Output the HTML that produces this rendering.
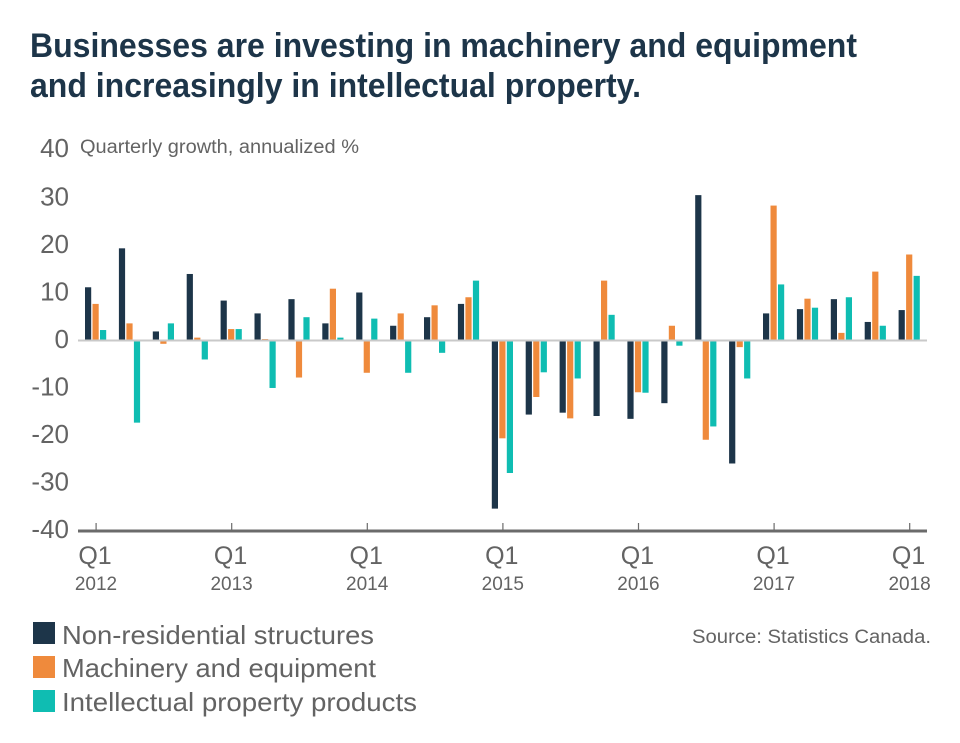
<!DOCTYPE html>
<html>
<head>
<meta charset="utf-8">
<style>
html,body{margin:0;padding:0;background:#fff;}
svg{display:block;font-family:"Liberation Sans",sans-serif;}
</style>
</head>
<body>
<svg id="chart" width="960" height="743" viewBox="0 0 960 743" xmlns="http://www.w3.org/2000/svg">
  <rect width="960" height="743" fill="#ffffff"/>
  <text x="30" y="57" font-size="34" font-weight="700" fill="#1d3549" textLength="827" lengthAdjust="spacingAndGlyphs">Businesses are investing in machinery and equipment</text>
  <text x="30" y="97" font-size="34" font-weight="700" fill="#1d3549" textLength="611" lengthAdjust="spacingAndGlyphs">and increasingly in intellectual property.</text>
  <text x="80" y="153" font-size="19" fill="#636363" textLength="279" lengthAdjust="spacingAndGlyphs">Quarterly growth, annualized %</text>
  <g id="plot"></g>
  <g>
    <g>
      <rect x="33" y="622" width="22" height="22" fill="#1d3549"/>
      <text x="62" y="644" font-size="26" fill="#636363" textLength="312" lengthAdjust="spacingAndGlyphs">Non-residential structures</text>
    </g>
    <g>
      <rect x="33" y="656" width="22" height="22" fill="#ef8a3c"/>
      <text x="62" y="677" font-size="26" fill="#636363" textLength="314" lengthAdjust="spacingAndGlyphs">Machinery and equipment</text>
    </g>
    <g>
      <rect x="33" y="690" width="22" height="22" fill="#0fbdb2"/>
      <text x="62" y="711" font-size="26" fill="#636363" textLength="355" lengthAdjust="spacingAndGlyphs">Intellectual property products</text>
    </g>
  </g>
  <text x="692" y="643" font-size="19" fill="#636363" textLength="239" lengthAdjust="spacingAndGlyphs">Source: Statistics Canada.</text>
</svg>
<script>
const yTicks = [40, 30, 20, 10, 0, -10, -20, -30, -40];
const xTickYears = ["2012", "2013", "2014", "2015", "2016", "2017", "2018"];
const structures = [11.1, 19.3, 1.8, 13.9, 8.3, 5.6, 8.6, 3.5, 10, 3, 4.8, 7.6, -35.5, -15.7, -15.3, -16, -16.6, -13.3, 30.5, -26, 5.6, 6.5, 8.6, 3.8, 6.3];
const machinery = [7.6, 3.5, -0.8, 0.5, 2.3, 0.2, -7.9, 10.8, -6.9, 5.6, 7.3, 9, -20.7, -12, -16.5, 12.5, -11, 3, -21, -1.5, 28.3, 8.7, 1.5, 14.4, 18];
const ipProducts = [2.1, -17.4, 3.5, -4.1, 2.3, -10.1, 4.8, 0.5, 4.5, -6.9, -2.7, 12.5, -28, -6.8, -8.1, 5.3, -11.1, -1.2, -18.2, -8.1, 11.7, 6.8, 9, 3, 13.5];

const NS = "http://www.w3.org/2000/svg";
const plot = document.getElementById("plot");
const yScale = function (v) { return 340 - v * 4.75; };
const xScale = function (q) { return 96 + q * 33.9; };
const seriesDefs = [
  { name: "structures", values: structures, color: "#1d3549", offset: -11 },
  { name: "machinery", values: machinery, color: "#ef8a3c", offset: -3.5 },
  { name: "ip", values: ipProducts, color: "#0fbdb2", offset: 4 }
];

function make(tag, attrs, text) {
  const el = document.createElementNS(NS, tag);
  Object.keys(attrs).forEach(function (k) { el.setAttribute(k, attrs[k]); });
  if (text !== undefined) el.textContent = text;
  plot.appendChild(el);
  return el;
}

yTicks.forEach(function (t) {
  const el = make("text", { x: 69, y: yScale(t) + (t === 40 ? 7 : 8), "font-size": 26, fill: "#636363", "text-anchor": "end" }, String(t));
  
  
});

seriesDefs.forEach(function (s) {
  s.values.forEach(function (v, q) {
    const y0 = yScale(0), y1 = yScale(v);
    const el = make("rect", { x: xScale(q) + s.offset, y: Math.min(y0, y1), width: 6.2, height: Math.abs(y1 - y0), fill: s.color });
    
    
  });
});

const zero = make("rect", { x: 78, y: yScale(0) - 0.5, width: 849, height: 2, fill: "#c9c9c9" });



const axis = make("rect", { x: 78, y: yScale(-40) - 0.5, width: 849, height: 3, fill: "#6b6b6b" });



xTickYears.forEach(function (yr, i) {
  const x = xScale(i * 4);
  const tick = make("rect", { x: x - 0.5, y: 523, width: 1.2, height: 8, fill: "#6b6b6b" });
  
  
  const q = make("text", { x: x - 1, y: 564, "font-size": 25, fill: "#636363", "text-anchor": "middle" }, "Q1");
  
  
  const y = make("text", { x: x, y: 590, "font-size": 19, fill: "#636363", "text-anchor": "middle" }, yr);
  
  
});
</script>
</body>
</html>
